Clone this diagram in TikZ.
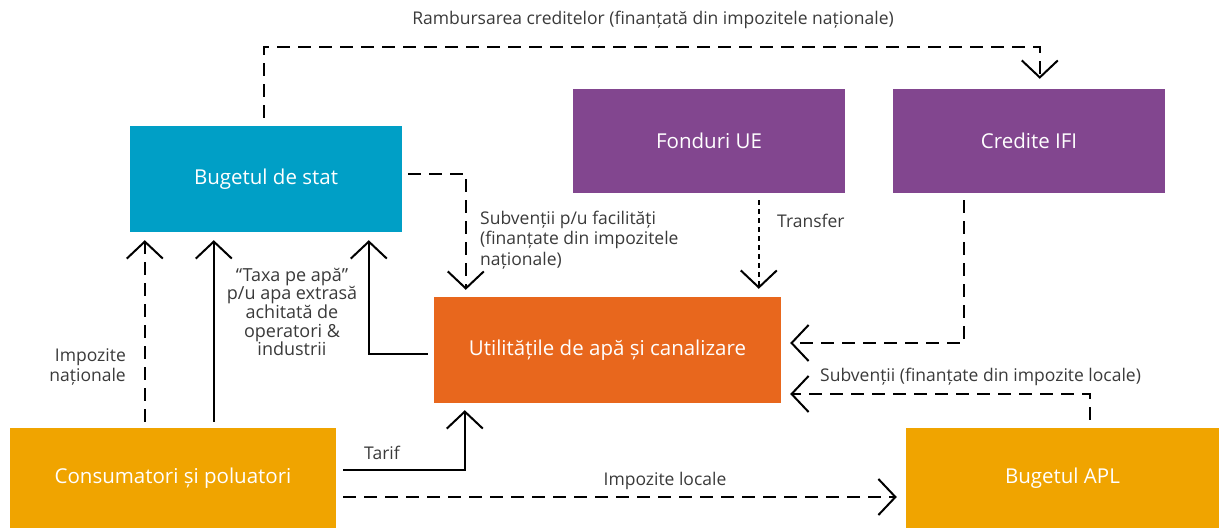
\documentclass[tikz,border=0pt]{standalone}
\usepackage{fontspec}
\setmainfont{Open Sans}
\usetikzlibrary{arrows.meta,calc}
\definecolor{cblue}{HTML}{009FC6}
\definecolor{cpurple}{HTML}{82468F}
\definecolor{corange}{HTML}{E8671D}
\definecolor{camber}{HTML}{F0A400}
\definecolor{ctext}{HTML}{3A3A3A}
\tikzset{
  box/.style={draw=none,inner sep=0pt,text=white,font=\fontsize{20.5}{24}\selectfont},
  lbl/.style={inner sep=0pt,text=ctext,font=\fontsize{17.5}{20.5}\selectfont},
  conn/.style={line width=2.2pt,black,-{Straight Barb[length=17pt,width=36pt,line width=2pt]}},
  dashconn/.style={conn,dash pattern=on 13pt off 8pt},
  dotconn/.style={conn,dash pattern=on 5pt off 4pt}
}
\begin{document}
\begin{tikzpicture}[x=1pt,y=-1pt]
\useasboundingbox (0,0) rectangle (1219,528);
\node[box,fill=cblue,minimum width=272pt,minimum height=106pt] (bug) at (266,179) {Bugetul de stat};
\node[box,fill=cpurple,minimum width=272pt,minimum height=104pt] (fon) at (709,141) {Fonduri UE};
\node[box,fill=cpurple,minimum width=272pt,minimum height=104pt] (cred) at (1029,141) {Credite IFI};
\node[box,fill=corange,minimum width=347pt,minimum height=106pt] (util) at (607.5,350) {Utilitățile de apă și canalizare};
\node[box,fill=camber,minimum width=326pt,minimum height=100pt] (cons) at (173,478) {Consumatori și poluatori};
\node[box,fill=camber,minimum width=313pt,minimum height=100pt] (apl) at (1062.5,478) {Bugetul APL};

% top: rambursarea
\coordinate (top) at (0,47);
\coordinate (b0) at ([xshift=134pt,yshift=8pt]bug.north west);
\draw[dashconn] (b0) -- (b0 |- top) -| ([xshift=147pt,yshift=10pt]cred.north west);
\node[lbl] (lramb) at (653,20) {Rambursarea creditelor (finanțată din impozitele naționale)};

% consumatori -> bugetul de stat
\coordinate (bb) at ([yshift=-8pt]bug.south);
\coordinate (c1) at ([xshift=135pt,yshift=6pt]cons.north west);
\draw[dashconn] (c1) -- (c1 |- bb);
\coordinate (c2) at ([xshift=204pt,yshift=6pt]cons.north west);
\draw[conn] (c2) -- (c2 |- bb);
\node[lbl,align=right,anchor=east] (limp) at (126,367) {Impozite\\naționale};
\node[lbl,align=center,font=\fontsize{18}{18.7}\selectfont] (ltaxa) at (292,312) {“Taxa pe apă”\\p/u apa extrasă\\achitată de\\operatori \&\\industrii};

% util -> bugetul de stat (solid)
\draw[conn] ([xshift=-6pt,yshift=-4pt]util.west) -| ([xshift=239pt,yshift=-8pt]bug.south west);

% bugetul -> util (dashed)
\draw[dashconn] ([xshift=6pt,yshift=5pt]bug.east) -| ([xshift=32pt,yshift=7pt]util.north west);
\node[lbl,align=left,anchor=west] (lsubv) at (480,240) {Subvenții p/u facilități\\(finanțate din impozitele\\naționale)};

% fonduri -> util (dotted)
\draw[dotconn] ([xshift=186pt,yshift=-7pt]fon.south west) -- ([xshift=325pt,yshift=8pt]util.north west);
\node[lbl,anchor=west] (ltransf) at (777,221) {Transfer};

% credite -> util (dashed)
\draw[dashconn] ([xshift=71pt,yshift=-7pt]cred.south west) |- ([xshift=9pt,yshift=7pt]util.east);

% APL -> util (dashed)
\draw[dashconn] ([xshift=184pt,yshift=8pt]apl.north west) |- ([xshift=9pt,yshift=-44pt]util.east);
\node[lbl,anchor=west] (lsubl) at (820,377) {Subvenții (finanțate din impozite locale)};

% consumatori -> util (solid, tarif)
\draw[conn] ([xshift=7pt,yshift=8pt]cons.east) -| ([xshift=31pt,yshift=-7pt]util.south west);
\node[lbl] (ltarif) at (382,453) {Tarif};

% consumatori -> APL (dashed)
\coordinate (c3) at ([xshift=7pt,yshift=-19pt]cons.east);
\coordinate (aw) at ([xshift=-9pt]apl.west);
\draw[dashconn] (c3) -- (c3 -| aw);
\node[lbl] (lloc) at (665,481) {Impozite locale};
\end{tikzpicture}
\end{document}
